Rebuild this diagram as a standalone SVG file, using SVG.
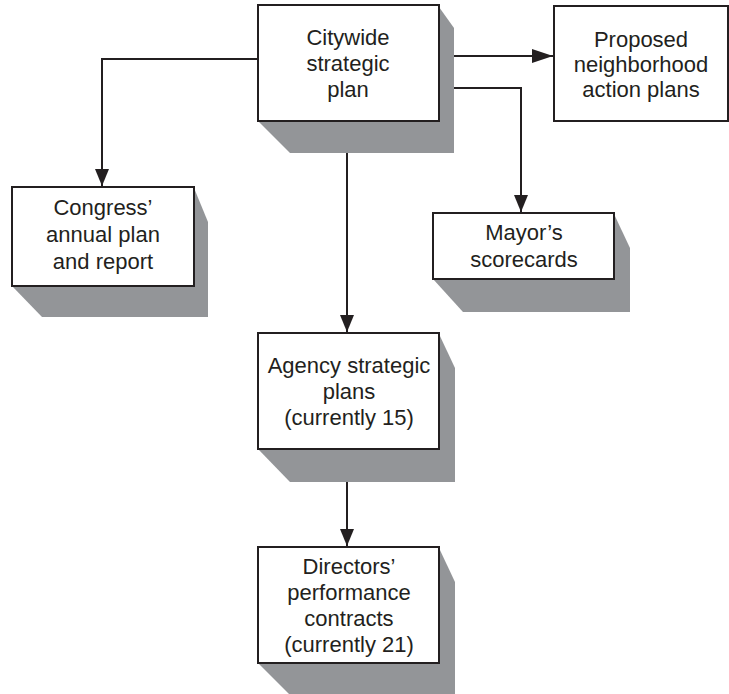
<svg xmlns="http://www.w3.org/2000/svg" width="729" height="694" viewBox="0 0 729 694">
<style>
.box{fill:#ffffff;stroke:#231f20;stroke-width:2}
.sh{fill:#939598}
.lbl{font-family:"Liberation Sans",Arial,sans-serif;font-size:22px;fill:#231f20;text-anchor:middle}
.con{fill:none;stroke:#231f20;stroke-width:2}
</style>
<defs>
<marker id="ah" markerUnits="userSpaceOnUse" markerWidth="18" markerHeight="14" refX="17" refY="7" orient="auto">
<path d="M0,0 L17,7 L0,14 Z" fill="#231f20"/>
</marker>
<marker id="ahL" markerUnits="userSpaceOnUse" markerWidth="22" markerHeight="14" refX="21" refY="7" orient="auto">
<path d="M0,0 L21,7 L0,14 Z" fill="#231f20"/>
</marker>
</defs>
<rect width="729" height="694" fill="#ffffff"/>
<g id="connectors">
<path class="con" d="M258,59 H102 V186" marker-end="url(#ah)"/>
<path class="con" d="M439,56 H553" marker-end="url(#ahL)"/>
<path class="con" d="M439,88 H521 V212" marker-end="url(#ah)"/>
<path class="con" d="M347,121 V332" marker-end="url(#ah)"/>
<path class="con" d="M347,449 V546" marker-end="url(#ah)"/>
</g>
<g id="citywide">
<polygon class="sh" points="439,7 454,28 454,153 290,153 258,121"/>
<rect class="box" x="258" y="5" width="181" height="116"/>
<text class="lbl" x="348" y="45">Citywide</text>
<text class="lbl" x="348" y="71">strategic</text>
<text class="lbl" x="348" y="97">plan</text>
</g>
<g id="proposed">
<rect class="box" x="554" y="6" width="174" height="115"/>
<text class="lbl" x="641" y="47">Proposed</text>
<text class="lbl" x="641" y="72">neighborhood</text>
<text class="lbl" x="641" y="97">action plans</text>
</g>
<g id="congress">
<polygon class="sh" points="194,188 208,222 208,317 42,317 12,286"/>
<rect class="box" x="12" y="187" width="182" height="99"/>
<text class="lbl" x="103" y="215">Congress’</text>
<text class="lbl" x="103" y="242">annual plan</text>
<text class="lbl" x="103" y="269">and report</text>
</g>
<g id="mayors">
<polygon class="sh" points="614,214 630,248 630,312 463,312 433,279"/>
<rect class="box" x="433" y="213" width="181" height="66"/>
<text class="lbl" x="524" y="240">Mayor’s</text>
<text class="lbl" x="524" y="267">scorecards</text>
</g>
<g id="agency">
<polygon class="sh" points="439,334 455,368 455,482 290,482 258,449"/>
<rect class="box" x="258" y="333" width="181" height="116"/>
<text class="lbl" x="349" y="373">Agency strategic</text>
<text class="lbl" x="349" y="399">plans</text>
<text class="lbl" x="349" y="425">(currently 15)</text>
</g>
<g id="directors">
<polygon class="sh" points="439,548 455,582 455,700 295,700 258,663"/>
<rect class="box" x="258" y="547" width="181" height="116"/>
<text class="lbl" x="349" y="574">Directors’</text>
<text class="lbl" x="349" y="600">performance</text>
<text class="lbl" x="349" y="626">contracts</text>
<text class="lbl" x="349" y="652">(currently 21)</text>
</g>
</svg>
